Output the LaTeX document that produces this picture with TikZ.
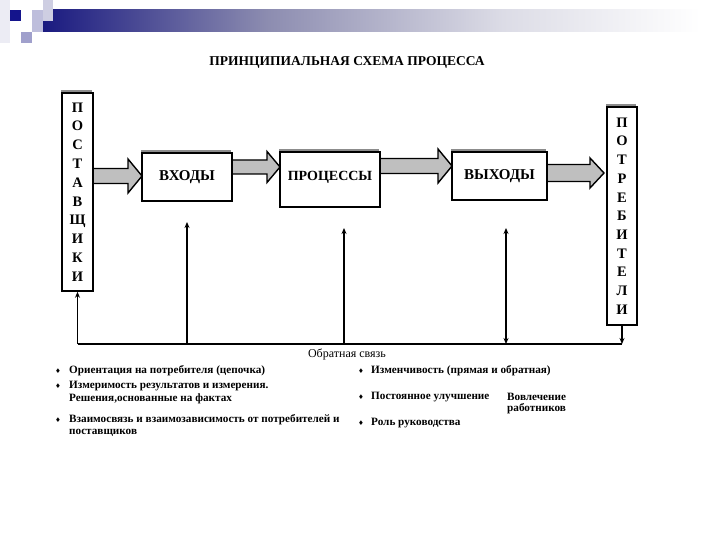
\documentclass[tikz,border=0pt]{standalone}
\usepackage{fontspec}
\setmainfont{Liberation Serif}
\newfontfamily\symf{DejaVu Sans}
\usetikzlibrary{shadows,calc,arrows.meta}
\definecolor{navy}{RGB}{26,26,128}
\definecolor{midbar}{RGB}{140,140,176}
\definecolor{lightbar}{RGB}{220,220,230}
\definecolor{lavA}{RGB}{206,206,226}
\definecolor{lavB}{RGB}{190,190,220}
\definecolor{lavC}{RGB}{160,160,204}
\definecolor{faintc}{RGB}{236,236,244}
\definecolor{sqdark}{RGB}{20,20,140}
\pgfdeclarehorizontalshading{barshade}{100bp}{color(0bp)=(navy); color(25bp)=(navy); color(42bp)=(midbar); color(60bp)=(lightbar); color(75bp)=(white); color(100bp)=(white)}
\newcommand\blockarrow[6]{\draw[blockarr] (#1,{#3-#4}) -- ({#2-#6},{#3-#4}) -- ({#2-#6},{#3-#5}) -- (#2,#3) -- ({#2-#6},{#3+#5}) -- ({#2-#6},{#3+#4}) -- (#1,{#3+#4}) -- cycle;}
\begin{document}
\begin{tikzpicture}[x=1pt,y=-1pt,
  box/.style={draw=black, line width=1.6pt, fill=white,
    general shadow={fill=black!45, shadow xshift=-1.5pt, shadow yshift=3pt},
    font=\bfseries\fontsize{15}{17}\selectfont, inner sep=0pt},
  vbox/.style={box, align=center},
  blockarr/.style={draw=black, line width=1.4pt, fill=black!25, line join=miter},
  fb/.style={line width=1.4pt},
  fbarr/.style={line width=1.4pt, -{Stealth[length=6pt,width=5pt]}},
  item/.style={anchor=west, font=\bfseries\fontsize{11.2}{13}\selectfont, inner sep=0pt},
  bul/.style={font=\symf\fontsize{6.5}{7}\selectfont, inner sep=0pt}
]
\useasboundingbox (0,0) rectangle (720,540);
\fill[white] (0,0) rectangle (720,540);
% header decoration
\fill[faintc] (0,0) rectangle (10,43);
\shade[shading=barshade] (43,10) rectangle (700,32);
\fill[lavA] (43,0) rectangle (53,21);
\fill[lavB] (32,10) rectangle (43,21);
\fill[lavB] (32,21) rectangle (43,32);
\fill[lavC] (21,32) rectangle (32,43);
\fill[sqdark] (10,10) rectangle (21,21);
% title
\node[font=\bfseries\fontsize{13.5}{15}\selectfont] (title) at (347,62) {ПРИНЦИПИАЛЬНАЯ СХЕМА ПРОЦЕССА};
% block arrows
\blockarrow{93}{142}{176}{7.5}{17}{14}
\blockarrow{232}{280}{167}{7}{15.5}{13}
\blockarrow{380}{452}{166}{7.5}{17}{14}
\blockarrow{547}{604}{173}{8.5}{15}{14}
% boxes
\node[vbox, minimum width=31, minimum height=198, font=\bfseries\fontsize{14.5}{18.8}\selectfont] (sup) at (77.5,192) {П\\О\\С\\Т\\А\\В\\Щ\\И\\К\\И};
\node[vbox, minimum width=30, minimum height=218, font=\bfseries\fontsize{14.5}{18.7}\selectfont] (cons) at (622,216) {П\\О\\Т\\Р\\Е\\Б\\И\\Т\\Е\\Л\\И};
\node[box, minimum width=90, minimum height=48] (in) at (187,177) {ВХОДЫ};
\node[box, minimum width=100, minimum height=55] (proc) at (330,179.5) {};
\node[font=\bfseries\fontsize{14}{16}\selectfont] (proclab) at (proc.center) [yshift=2.5pt] {ПРОЦЕССЫ};
\node[box, minimum width=95, minimum height=48] (out) at (499.5,176) {ВЫХОДЫ};
% feedback
\coordinate (fbL) at (77.5,344);
\coordinate (fbR) at (622,344);
\coordinate (b1) at (187,344);
\coordinate (b2) at (344,344);
\coordinate (b3) at (506,344);
\coordinate (t1) at (187,222);
\coordinate (t2) at (344,228);
\coordinate (t3) at (506,228);
\draw[fb] (fbL) -- (fbR);
\draw[fbarr] (fbL) -- (sup.south);
\draw[fbarr] (b1) -- (t1);
\draw[fbarr] (b2) -- (t2);
\draw[line width=1.4pt, {Stealth[length=6pt,width=5pt]}-{Stealth[length=6pt,width=5pt]}] (t3) -- (b3);
\draw[fbarr] (cons.south) -- (fbR);
\node[font=\fontsize{12}{14}\selectfont] (fblab) at (347,354) {Обратная связь};
% bullets left
\node[bul] (bl1) at (58,371) {♦};
\node[item] (tl1) at (69,371) {Ориентация на потребителя (цепочка)};
\node[bul] (bl2) at (58,386) {♦};
\node[item] (tl2) at (69,386) {Измеримость результатов и измерения.};
\node[item] (tl2b) at (69,399) {Решения,основанные на фактах};
\node[bul] (bl3) at (58,420) {♦};
\node[item] (tl3) at (69,420) {Взаимосвязь и взаимозависимость от потребителей и};
\node[item] (tl3b) at (69,433) {поставщиков};
% bullets right
\node[bul] (br1) at (361,371) {♦};
\node[item] (tr1) at (371,371) {Изменчивость (прямая и обратная)};
\node[bul] (br2) at (361,397) {♦};
\node[item] (tr2) at (371,397) {Постоянное улучшение};
\node[item] (tr2c) at (507,397) {Вовлечение};
\node[item] (tr2d) at (507,409) {работников};
\node[bul] (br3) at (361,423) {♦};
\node[item] (tr3) at (371,423) {Роль руководства};
\end{tikzpicture}
\end{document}
